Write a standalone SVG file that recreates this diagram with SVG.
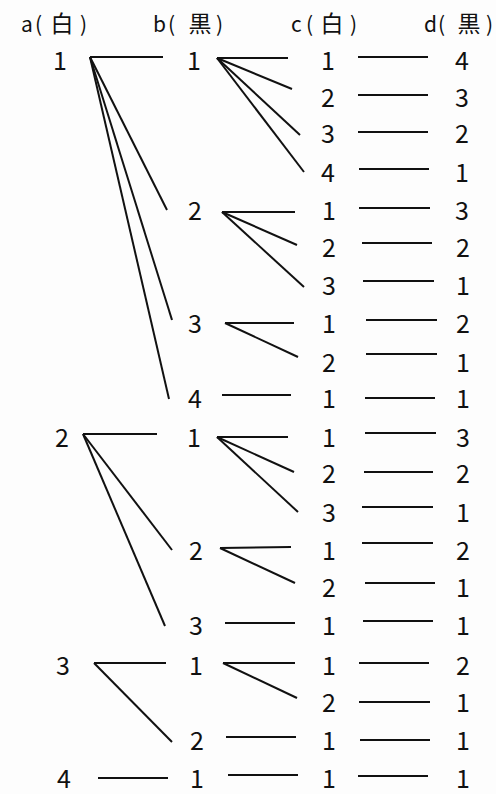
<svg xmlns="http://www.w3.org/2000/svg" width="496" height="794" viewBox="0 0 496 794">
<style>
.h{font-family:"Noto Sans CJK JP","Noto Sans CJK SC",sans-serif;font-size:21px;fill:#111}
.k{font-size:23px}
.n{font-family:"Noto Sans CJK JP","Liberation Sans",sans-serif;font-size:25px;fill:#111;text-anchor:middle}
.c line{stroke:#111;stroke-width:2;stroke-linecap:butt}
</style>
<rect width="496" height="794" fill="#fdfdfd"/>
<g id="headers">
<text class="h" y="32"><tspan x="21">a</tspan><tspan x="35">(</tspan><tspan class="k" x="50.5">白</tspan><tspan x="80">)</tspan></text>
<text class="h" y="32"><tspan x="153">b</tspan><tspan x="168">(</tspan><tspan class="k" x="188.5">黒</tspan><tspan x="216">)</tspan></text>
<text class="h" y="32"><tspan x="291">c</tspan><tspan x="306">(</tspan><tspan class="k" x="320.5">白</tspan><tspan x="350">)</tspan></text>
<text class="h" y="32"><tspan x="424">d</tspan><tspan x="438">(</tspan><tspan class="k" x="457.5">黒</tspan><tspan x="486">)</tspan></text>
</g>
<g id="col-a">
<g id="a1"><text class="n" x="60" y="70">1</text></g>
<g id="a2"><text class="n" x="62" y="447">2</text></g>
<g id="a3"><text class="n" x="63" y="675">3</text></g>
<g id="a4"><text class="n" x="64" y="788">4</text></g>
</g>
<g id="col-b">
<g id="b-1-1"><text class="n" x="194" y="70">1</text></g>
<g id="b-1-2"><text class="n" x="195" y="220">2</text></g>
<g id="b-1-3"><text class="n" x="195" y="333">3</text></g>
<g id="b-1-4"><text class="n" x="195" y="408">4</text></g>
<g id="b-2-1"><text class="n" x="194" y="447">1</text></g>
<g id="b-2-2"><text class="n" x="196" y="560">2</text></g>
<g id="b-2-3"><text class="n" x="196" y="635">3</text></g>
<g id="b-3-1"><text class="n" x="196" y="675">1</text></g>
<g id="b-3-2"><text class="n" x="197" y="750">2</text></g>
<g id="b-4-1"><text class="n" x="197" y="788">1</text></g>
</g>
<g id="col-c">
<g id="c1"><text class="n" x="328" y="70">1</text></g>
<g id="c2"><text class="n" x="328" y="107">2</text></g>
<g id="c3"><text class="n" x="328" y="143">3</text></g>
<g id="c4"><text class="n" x="328" y="182">4</text></g>
<g id="c5"><text class="n" x="329" y="220">1</text></g>
<g id="c6"><text class="n" x="329" y="257">2</text></g>
<g id="c7"><text class="n" x="329" y="295">3</text></g>
<g id="c8"><text class="n" x="329" y="333">1</text></g>
<g id="c9"><text class="n" x="329" y="372">2</text></g>
<g id="c10"><text class="n" x="329" y="408">1</text></g>
<g id="c11"><text class="n" x="329" y="447">1</text></g>
<g id="c12"><text class="n" x="329" y="483">2</text></g>
<g id="c13"><text class="n" x="329" y="522">3</text></g>
<g id="c14"><text class="n" x="329" y="560">1</text></g>
<g id="c15"><text class="n" x="329" y="597">2</text></g>
<g id="c16"><text class="n" x="329" y="635">1</text></g>
<g id="c17"><text class="n" x="329" y="675">1</text></g>
<g id="c18"><text class="n" x="329" y="712">2</text></g>
<g id="c19"><text class="n" x="329" y="750">1</text></g>
<g id="c20"><text class="n" x="329" y="788">1</text></g>
</g>
<g id="col-d">
<g id="d1"><text class="n" x="462" y="70">4</text></g>
<g id="d2"><text class="n" x="462" y="107">3</text></g>
<g id="d3"><text class="n" x="462" y="143">2</text></g>
<g id="d4"><text class="n" x="462" y="182">1</text></g>
<g id="d5"><text class="n" x="462" y="220">3</text></g>
<g id="d6"><text class="n" x="463" y="257">2</text></g>
<g id="d7"><text class="n" x="463" y="295">1</text></g>
<g id="d8"><text class="n" x="463" y="333">2</text></g>
<g id="d9"><text class="n" x="463" y="372">1</text></g>
<g id="d10"><text class="n" x="463" y="408">1</text></g>
<g id="d11"><text class="n" x="463" y="447">3</text></g>
<g id="d12"><text class="n" x="463" y="483">2</text></g>
<g id="d13"><text class="n" x="463" y="522">1</text></g>
<g id="d14"><text class="n" x="463" y="560">2</text></g>
<g id="d15"><text class="n" x="463" y="597">1</text></g>
<g id="d16"><text class="n" x="463" y="635">1</text></g>
<g id="d17"><text class="n" x="463" y="675">2</text></g>
<g id="d18"><text class="n" x="463" y="712">1</text></g>
<g id="d19"><text class="n" x="463" y="750">1</text></g>
<g id="d20"><text class="n" x="463" y="788">1</text></g>
</g>
<g id="connectors" class="c">
<line x1="90" y1="57" x2="163" y2="57"/>
<line x1="90" y1="57" x2="167" y2="210"/>
<line x1="90" y1="57" x2="172" y2="320"/>
<line x1="90" y1="57" x2="169" y2="399"/>
<line x1="83" y1="434" x2="157" y2="434"/>
<line x1="83" y1="434" x2="172" y2="550"/>
<line x1="83" y1="434" x2="165" y2="626"/>
<line x1="94" y1="663" x2="166" y2="663"/>
<line x1="94" y1="663" x2="172" y2="742"/>
<line x1="98" y1="778" x2="168" y2="778"/>
<line x1="217" y1="58" x2="288" y2="58"/>
<line x1="217" y1="58" x2="292" y2="89"/>
<line x1="217" y1="58" x2="300" y2="135"/>
<line x1="217" y1="58" x2="304" y2="172"/>
<line x1="222" y1="212" x2="295" y2="212"/>
<line x1="222" y1="212" x2="297" y2="245"/>
<line x1="222" y1="212" x2="304" y2="287"/>
<line x1="225" y1="323" x2="294" y2="323"/>
<line x1="225" y1="323" x2="298" y2="357"/>
<line x1="222" y1="395" x2="291" y2="395"/>
<line x1="217" y1="437" x2="288" y2="437"/>
<line x1="217" y1="437" x2="294" y2="472"/>
<line x1="217" y1="437" x2="298" y2="512"/>
<line x1="220" y1="548" x2="291" y2="547"/>
<line x1="220" y1="548" x2="295" y2="583"/>
<line x1="225" y1="623" x2="295" y2="623"/>
<line x1="223" y1="663" x2="295" y2="663"/>
<line x1="223" y1="663" x2="297" y2="698"/>
<line x1="226" y1="737" x2="296" y2="737"/>
<line x1="228" y1="775" x2="298" y2="775"/>
<line x1="358" y1="57" x2="428" y2="57"/>
<line x1="358" y1="95" x2="428" y2="95"/>
<line x1="358" y1="132" x2="428" y2="132"/>
<line x1="359" y1="169" x2="429" y2="169"/>
<line x1="359" y1="208" x2="430" y2="208"/>
<line x1="362" y1="243" x2="432" y2="243"/>
<line x1="363" y1="281" x2="434" y2="281"/>
<line x1="366" y1="320" x2="437" y2="320"/>
<line x1="366" y1="354" x2="437" y2="354"/>
<line x1="365" y1="398" x2="435" y2="398"/>
<line x1="365" y1="433" x2="436" y2="433"/>
<line x1="364" y1="472" x2="433" y2="472"/>
<line x1="362" y1="507" x2="433" y2="507"/>
<line x1="362" y1="543" x2="433" y2="543"/>
<line x1="365" y1="583" x2="435" y2="583"/>
<line x1="363" y1="621" x2="433" y2="621"/>
<line x1="359" y1="663" x2="429" y2="663"/>
<line x1="359" y1="702" x2="430" y2="702"/>
<line x1="360" y1="740" x2="430" y2="740"/>
<line x1="358" y1="776" x2="428" y2="776"/>
</g>
</svg>
